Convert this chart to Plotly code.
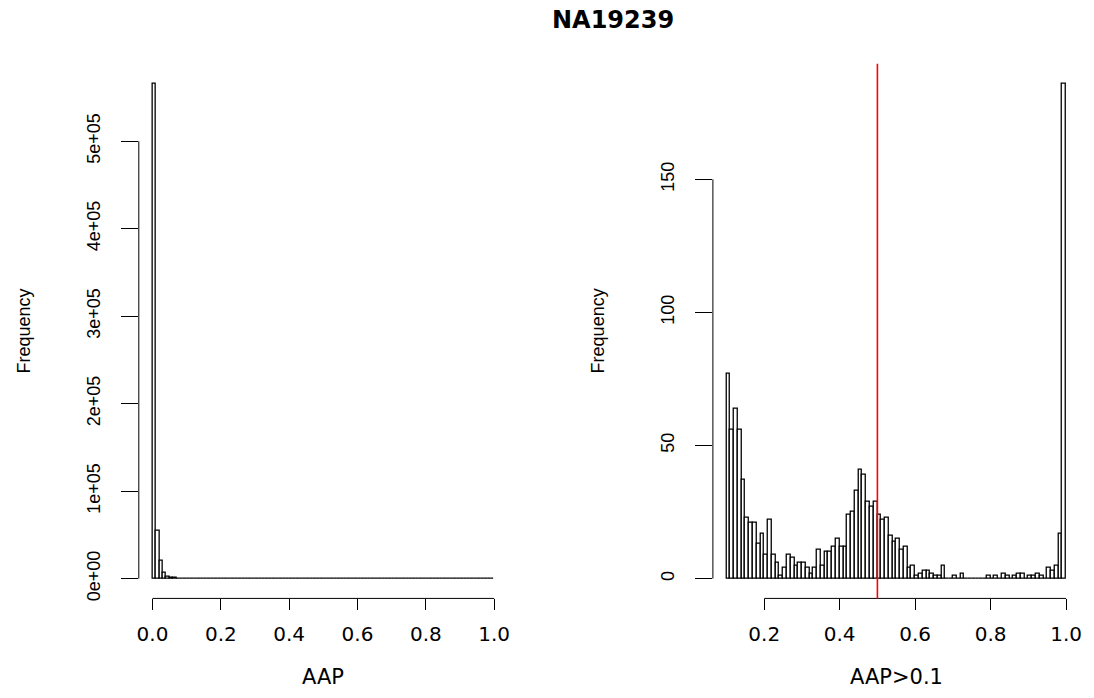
import plotly.graph_objects as go

# ---------------- data ----------------
TITLE = "NA19239"
BIN = 0.01
CUTOFF = 0.5

# right panel: AAP > 0.1, bins of 0.01 from 0.10 to 1.00
right_start = 0.10
right_counts = [
    77, 56, 64, 56, 37, 23, 21, 21, 13, 17,   # 0.10-0.19
    9, 22, 9, 6, 1, 4, 9, 8, 5, 6,            # 0.20-0.29
    6, 4, 2, 4, 11, 5, 10, 10, 12, 15,        # 0.30-0.39
    12, 12, 24, 25, 33, 41, 39, 29, 27, 29,   # 0.40-0.49
    24, 22, 23, 16, 14, 15, 11, 12, 4, 5,     # 0.50-0.59
    1, 2, 3, 3, 2, 1, 1, 5, 0, 0,             # 0.60-0.69
    1, 0, 2, 0, 0, 0, 0, 0, 0, 1,             # 0.70-0.79
    0, 1, 0, 2, 1, 0, 1, 2, 2, 0,             # 0.80-0.89
    1, 1, 2, 1, 0, 4, 3, 5, 17, 186,          # 0.90-0.99
]

# left panel: all AAP, bins of 0.01 from 0.00 to 1.00
left_start = 0.0
left_low_counts = [566000, 55300, 20800, 6800, 2600, 1100, 560, 330, 210, 140]  # 0.00-0.09
left_counts = left_low_counts + right_counts

left_xticks = [0.0, 0.2, 0.4, 0.6, 0.8, 1.0]
left_xticklabels = ["0.0", "0.2", "0.4", "0.6", "0.8", "1.0"]
left_yticks = [0, 100000, 200000, 300000, 400000, 500000]
left_yticklabels = ["0e+00", "1e+05", "2e+05", "3e+05", "4e+05", "5e+05"]

right_xticks = [0.2, 0.4, 0.6, 0.8, 1.0]
right_xticklabels = ["0.2", "0.4", "0.6", "0.8", "1.0"]
right_yticks = [0, 50, 100, 150]
right_yticklabels = ["0", "50", "100", "150"]

left_xlabel = "AAP"
right_xlabel = "AAP>0.1"
ylabel = "Frequency"

# ---------------- layout helpers ----------------
W, H = 1094, 698
def px_x(p):
    return p / W
def px_y(p):
    return 1 - p / H

left_centers = [left_start + BIN * (i + 0.5) for i in range(len(left_counts))]
right_centers = [right_start + BIN * (i + 0.5) for i in range(len(right_counts))]

def padded(lo, hi):
    d = (hi - lo) * 0.04
    return [lo - d, hi + d]

bar_style = dict(color="white", line=dict(color="black", width=1.3))

fig = go.Figure()
fig.add_trace(go.Bar(x=left_centers, y=left_counts, width=BIN, marker=bar_style,
                     xaxis="x", yaxis="y", showlegend=False, hoverinfo="x+y"))
fig.add_trace(go.Bar(x=right_centers, y=right_counts, width=BIN, marker=bar_style,
                     xaxis="x2", yaxis="y2", showlegend=False, hoverinfo="x+y"))

ydom = [px_y(601), px_y(64)]
xfont = dict(family="DejaVu Sans", size=20, color="black")
yfont = dict(family="Liberation Sans", size=18, color="black")

common_x = dict(showgrid=False, zeroline=False, showline=False, ticks="outside",
                ticklen=11, tickwidth=1, tickcolor="black", tickfont=xfont,
                ticklabelstandoff=7, fixedrange=True)
common_y = dict(showgrid=False, zeroline=False, showline=False, ticks="outside",
                ticklen=17, tickwidth=1, tickcolor="black", tickfont=yfont,
                tickangle=-90, ticklabelstandoff=14, fixedrange=True)

fig.update_layout(
    width=W, height=H, autosize=False,
    margin=dict(l=0, r=0, t=0, b=0),
    paper_bgcolor="white", plot_bgcolor="white",
    bargap=0,
    xaxis=dict(domain=[px_x(137.3), px_x(507.7)], range=padded(0.0, 1.0),
               tickvals=left_xticks, ticktext=left_xticklabels, anchor="y", **common_x),
    yaxis=dict(domain=ydom, range=padded(0, max(left_counts)),
               tickvals=left_yticks, ticktext=left_yticklabels, anchor="x", **common_y),
    xaxis2=dict(domain=[px_x(713.5), px_x(1081.6)],
                range=padded(right_start, right_start + BIN * len(right_counts)),
                tickvals=right_xticks, ticktext=right_xticklabels, anchor="y2", **common_x),
    yaxis2=dict(domain=ydom, range=padded(0, max(right_counts)),
                tickvals=right_yticks, ticktext=right_yticklabels, anchor="x2", **common_y),
)

# R-style axis lines spanning first to last tick
axis_line = dict(color="black", width=1)
shapes = [
    dict(type="line", xref="x", yref="y domain", x0=left_xticks[0], x1=left_xticks[-1], y0=0, y1=0, line=axis_line),
    dict(type="line", xref="x domain", yref="y", x0=0, x1=0, y0=left_yticks[0], y1=left_yticks[-1], line=axis_line),
    dict(type="line", xref="x2", yref="y2 domain", x0=right_xticks[0], x1=right_xticks[-1], y0=0, y1=0, line=axis_line),
    dict(type="line", xref="x2 domain", yref="y2", x0=0, x1=0, y0=right_yticks[0], y1=right_yticks[-1], line=axis_line),
    dict(type="line", xref="x2", yref="y2 domain", x0=CUTOFF, x1=CUTOFF, y0=0, y1=1,
         line=dict(color="#FF0000", width=1.6)),
]
fig.update_layout(shapes=shapes)

lab_font = dict(family="DejaVu Sans", size=21, color="black")
ylab_font = dict(family="Liberation Sans", size=18, color="black")
annotations = [
    dict(text="<b>" + TITLE + "</b>", x=px_x(613), y=px_y(20), xref="paper", yref="paper",
         showarrow=False, xanchor="center", yanchor="middle",
         font=dict(family="DejaVu Sans", size=24, color="black")),
    dict(text=left_xlabel, x=px_x(322.5), y=px_y(680), xref="paper", yref="paper",
         showarrow=False, xanchor="center", yanchor="middle", font=lab_font),
    dict(text=right_xlabel, x=px_x(897.5), y=px_y(680), xref="paper", yref="paper",
         showarrow=False, xanchor="center", yanchor="middle", font=lab_font),
    dict(text=ylabel, x=px_x(22), y=px_y(332), xref="paper", yref="paper", textangle=-90,
         showarrow=False, xanchor="center", yanchor="middle", font=ylab_font),
    dict(text=ylabel, x=px_x(598), y=px_y(332), xref="paper", yref="paper", textangle=-90,
         showarrow=False, xanchor="center", yanchor="middle", font=ylab_font),
]
fig.update_layout(annotations=annotations)

fig.write_html("out.html", config={"displayModeBar": False},
               post_script="document.body.style.margin='0';document.body.style.overflow='hidden';")
